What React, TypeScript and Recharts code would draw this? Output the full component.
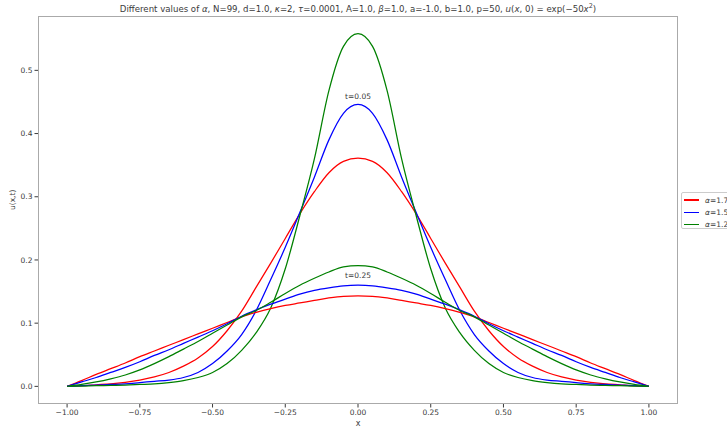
import { LineChart, Line, XAxis, YAxis, ReferenceDot } from 'recharts'

// sample positions along x
const xs = [
  -1, -0.95, -0.9, -0.85, -0.8, -0.75, -0.7, -0.65, -0.6, -0.55, -0.5, -0.45, -0.4, -0.35, -0.3, -0.25, -0.2, -0.15, -0.1, -0.05,
  0, 0.05, 0.1, 0.15, 0.2, 0.25, 0.3, 0.35, 0.4, 0.45, 0.5, 0.55, 0.6, 0.65, 0.7, 0.75, 0.8, 0.85, 0.9, 0.95, 1,
]

// t = 0.05
const red05 = [
  0, 0.001, 0.0025, 0.004, 0.0065, 0.01, 0.015, 0.022, 0.032, 0.045, 0.063, 0.088, 0.119, 0.157, 0.195, 0.234, 0.273, 0.308, 0.338, 0.356,
  0.361, 0.356, 0.338, 0.308, 0.273, 0.234, 0.195, 0.157, 0.119, 0.088, 0.063, 0.045, 0.032, 0.022, 0.015, 0.01, 0.0065, 0.004, 0.0025, 0.001, 0,
]
const blue05 = [
  0, 0.001, 0.002, 0.003, 0.004, 0.006, 0.008, 0.01, 0.014, 0.022, 0.036, 0.056, 0.082, 0.12, 0.169, 0.22, 0.275, 0.331, 0.39, 0.432,
  0.446, 0.432, 0.39, 0.331, 0.275, 0.22, 0.169, 0.12, 0.082, 0.056, 0.036, 0.022, 0.014, 0.01, 0.008, 0.006, 0.004, 0.003, 0.002, 0.001, 0,
]
const green05 = [
  0, 0.0005, 0.001, 0.0015, 0.002, 0.003, 0.004, 0.006, 0.009, 0.014, 0.022, 0.036, 0.057, 0.085, 0.124, 0.186, 0.27, 0.36, 0.468, 0.538,
  0.558, 0.538, 0.468, 0.36, 0.27, 0.186, 0.124, 0.085, 0.057, 0.036, 0.022, 0.014, 0.009, 0.006, 0.004, 0.003, 0.002, 0.0015, 0.001, 0.0005, 0,
]

// t = 0.25
const red25 = [
  0, 0.009, 0.019, 0.028, 0.037, 0.047, 0.056, 0.065, 0.074, 0.083, 0.092, 0.101, 0.11, 0.117, 0.123, 0.128, 0.132, 0.136, 0.14, 0.1425,
  0.143, 0.1425, 0.14, 0.136, 0.132, 0.128, 0.123, 0.117, 0.11, 0.101, 0.092, 0.083, 0.074, 0.065, 0.056, 0.047, 0.037, 0.028, 0.019, 0.009, 0,
]
const blue25 = [
  0, 0.007, 0.014, 0.022, 0.03, 0.039, 0.049, 0.058, 0.068, 0.078, 0.088, 0.099, 0.111, 0.121, 0.13, 0.138, 0.146, 0.152, 0.156, 0.159,
  0.16, 0.159, 0.156, 0.152, 0.146, 0.138, 0.13, 0.121, 0.111, 0.099, 0.088, 0.078, 0.068, 0.058, 0.049, 0.039, 0.03, 0.022, 0.014, 0.007, 0,
]
const green25 = [
  0, 0.003, 0.007, 0.012, 0.018, 0.026, 0.036, 0.047, 0.059, 0.071, 0.084, 0.097, 0.11, 0.12, 0.133, 0.147, 0.16, 0.171, 0.181, 0.189,
  0.191, 0.189, 0.181, 0.171, 0.16, 0.147, 0.133, 0.12, 0.11, 0.097, 0.084, 0.071, 0.059, 0.047, 0.036, 0.026, 0.018, 0.012, 0.007, 0.003, 0,
]

const xTicks = [-1, -0.75, -0.5, -0.25, 0, 0.25, 0.5, 0.75, 1]
const yTicks = [0, 0.1, 0.2, 0.3, 0.4, 0.5]

const legendItems = [
  { label: '1.7', color: '#ff0000' },
  { label: '1.5', color: '#0000ff' },
  { label: '1.2', color: '#008000' },
]

const series = [
  { key: 'r05', color: '#ff0000' },
  { key: 'b05', color: '#0000ff' },
  { key: 'g05', color: '#008000' },
  { key: 'r25', color: '#ff0000' },
  { key: 'b25', color: '#0000ff' },
  { key: 'g25', color: '#008000' },
]

const data = xs.map((x, i) => ({
  x,
  r05: red05[i],
  b05: blue05[i],
  g05: green05[i],
  r25: red25[i],
  b25: blue25[i],
  g25: green25[i],
}))

const font = '"DejaVu Sans", sans-serif'
const textColor = '#3a3a3a'
const minus = (s: string) => s.replace('-', '\u2212')

export default function App() {
  return (
    <div style={{ position: 'absolute', left: 0, top: 0, width: 727, height: 428, overflow: 'hidden', background: '#fff', fontFamily: font }}>
      <div style={{ position: 'absolute', top: 2, left: 38, width: 640, textAlign: 'center', fontSize: 8.6, color: textColor, whiteSpace: 'nowrap' }}>
        Different values of <i>α</i>, N=99, d=1.0, <i>κ</i>=2, <i>τ</i>=0.0001, A=1.0, <i>β</i>=1.0, a=-1.0, b=1.0, p=50, <i>u</i>(<i>x</i>, 0) = exp(−50<i>x</i>
        <sup style={{ fontSize: 6.5 }}>2</sup>)
      </div>
      <LineChart width={727} height={428} data={data} margin={{ top: 16, right: 49, bottom: 0, left: 8 }}>
        <XAxis
          dataKey="x"
          type="number"
          domain={[-1.1, 1.1]}
          ticks={xTicks}
          tickFormatter={(v: number) => minus(v.toFixed(2))}
          axisLine={false}
          tickLine={{ stroke: textColor }}
          tickSize={3.5}
          tick={{ fontSize: 7.5, fill: textColor, fontFamily: font }}
          height={24}
          label={{ value: 'x', position: 'insideBottom', offset: 2, fontSize: 8, fill: textColor, fontFamily: font }}
        />
        <YAxis
          type="number"
          domain={[-0.0279, 0.586]}
          ticks={yTicks}
          tickFormatter={(v: number) => v.toFixed(1)}
          axisLine={false}
          tickLine={{ stroke: textColor }}
          tickSize={3.5}
          tick={{ fontSize: 7.5, fill: textColor, fontFamily: font }}
          width={30}
          label={{ value: 'u(x,t)', angle: -90, position: 'insideLeft', offset: 4, fontSize: 7.5, fill: textColor, fontFamily: font }}
        />
        {series.map((s) => (
          <Line key={s.key} dataKey={s.key} type="monotone" stroke={s.color} strokeWidth={1.25} dot={false} isAnimationActive={false} />
        ))}
        <ReferenceDot x={0} y={0.459} r={0} fill="none" stroke="none" label={{ value: 't=0.05', position: 'center', fontSize: 7.5, fill: textColor, fontFamily: font }} />
        <ReferenceDot x={0} y={0.175} r={0} fill="none" stroke="none" label={{ value: 't=0.25', position: 'center', fontSize: 7.5, fill: textColor, fontFamily: font }} />
      </LineChart>
      <div style={{ position: 'absolute', left: 38, top: 16, width: 640, height: 388, border: '1px solid #aaa', boxSizing: 'border-box', pointerEvents: 'none' }} />
      <div style={{ position: 'absolute', left: 681, top: 192, width: 60, height: 37, border: '1px solid #ccc', borderRadius: 2, boxSizing: 'border-box', background: '#fff' }}>
        {legendItems.map((it, i) => (
          <div key={it.label} style={{ position: 'absolute', left: 2, top: 2 + i * 12.4, height: 10, display: 'flex', alignItems: 'center', fontSize: 7.5, color: textColor }}>
            <span style={{ display: 'inline-block', width: 15, height: 1.3, background: it.color, marginRight: 6 }} />
            <span><i>α</i>={it.label}</span>
          </div>
        ))}
      </div>
    </div>
  )
}
